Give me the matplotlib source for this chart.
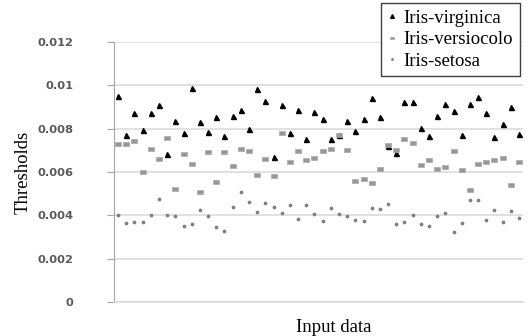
import numpy as np
import matplotlib.pyplot as plt
from matplotlib.ticker import FuncFormatter


virginica = [0.00949, 0.00770, 0.00872, 0.00793, 0.00874, 0.00909, 0.00685, 0.00837, 0.00782, 0.00988,
             0.00831, 0.00787, 0.00854, 0.00766, 0.00857, 0.00885, 0.00800, 0.00982, 0.00928, 0.00671,
             0.00909, 0.00782, 0.00885, 0.00754, 0.00879, 0.00843, 0.00754, 0.00770, 0.00837, 0.00791,
             0.00843, 0.00943, 0.00853, 0.00722, 0.00690, 0.00925, 0.00925, 0.00805, 0.00766, 0.00860,
             0.00912, 0.00882, 0.00770, 0.00916, 0.00946, 0.00874, 0.00762, 0.00823, 0.00899, 0.00776]

versicolor = [0.00731, 0.00728, 0.00745, 0.00602, 0.00706, 0.00658, 0.00756, 0.00524, 0.00683, 0.00635,
              0.00506, 0.00694, 0.00556, 0.00694, 0.00628, 0.00706, 0.00699, 0.00588, 0.00659, 0.00581,
              0.00779, 0.00645, 0.00696, 0.00656, 0.00667, 0.00699, 0.00705, 0.00773, 0.00702, 0.00558,
              0.00568, 0.00550, 0.00615, 0.00724, 0.00703, 0.00751, 0.00736, 0.00633, 0.00654, 0.00615,
              0.00621, 0.00697, 0.00611, 0.00519, 0.00637, 0.00644, 0.00654, 0.00667, 0.00539, 0.00644]

setosa = [0.00401, 0.00363, 0.00369, 0.00369, 0.00404, 0.00476, 0.00401, 0.00396, 0.00350, 0.00358,
          0.00423, 0.00396, 0.00347, 0.00326, 0.00439, 0.00506, 0.00461, 0.00416, 0.00458, 0.00439,
          0.00410, 0.00448, 0.00382, 0.00447, 0.00406, 0.00373, 0.00432, 0.00406, 0.00396, 0.00379,
          0.00376, 0.00436, 0.00429, 0.00453, 0.00358, 0.00370, 0.00404, 0.00358, 0.00352, 0.00398,
          0.00410, 0.00323, 0.00364, 0.00470, 0.00470, 0.00378, 0.00427, 0.00370, 0.00421, 0.00389]

labels = ["Iris-virginica", "Iris-versiocolo", "Iris-setosa"]
y_ticks = [0, 0.002, 0.004, 0.006, 0.008, 0.01, 0.012]

x = np.arange(1, len(virginica) + 1)

serif = "Liberation Serif"
rect = [(-1.6, -1), (1.6, -1), (1.6, 1), (-1.6, 1), (-1.6, -1)]

fig = plt.figure(figsize=(5.3, 3.36), dpi=100)
ax = fig.add_axes([0.215, 0.101, 0.772, 0.774])

ax.plot(x, virginica, linestyle="none", marker="^", markersize=3.6,
        color="black", label=labels[0])
ax.plot(x, versicolor, linestyle="none", marker=rect, markersize=4.4,
        color="#979797", markeredgecolor="#aaaaaa", markeredgewidth=0.5, label=labels[1])
ax.plot(x, setosa, linestyle="none", marker="o", markersize=2.7,
        color="#7f7f7f", markeredgewidth=0, label=labels[2])

ax.set_xlim(0.5, 50.5)
ax.set_ylim(0, 0.012)
ax.set_yticks(y_ticks)
ax.yaxis.set_major_formatter(FuncFormatter(lambda v, p: "0" if v == 0 else ("%g" % v)))
ax.set_xticks([])

ax.grid(axis="y", color="#d9d9d9", linewidth=1.1)
ax.set_axisbelow(True)
for side in ["top", "right"]:
    ax.spines[side].set_visible(False)
ax.spines["left"].set_color("#a6a6a6")
ax.spines["bottom"].set_color("#d9d9d9")
ax.spines["bottom"].set_linewidth(1.1)
ax.tick_params(axis="y", length=5, color="#a6a6a6", pad=24,
               labelsize=8.2, labelcolor="#595959")
for t in ax.get_yticklabels():
    t.set_fontfamily("DejaVu Sans")
    t.set_fontweight("semibold")

ax.set_ylabel("Thresholds", family=serif, fontsize=13.5)
ax.yaxis.set_label_coords(-0.20, 0.5)
ax.set_xlabel("Input data", family=serif, fontsize=13.5)
ax.xaxis.set_label_coords(0.538, -0.065)

leg = fig.legend(loc="upper left", bbox_to_anchor=(0.719, 0.99),
                 prop={"family": serif, "size": 13.5}, frameon=True,
                 fancybox=False, borderaxespad=0, handlelength=0.5,
                 handletextpad=0.35, labelspacing=0.22, borderpad=0.35,
                 markerscale=0.75)
leg.get_frame().set_edgecolor("#404040")
leg.get_frame().set_linewidth(1.0)
leg.get_frame().set_alpha(1)

fig.savefig("out.png", dpi=100)
